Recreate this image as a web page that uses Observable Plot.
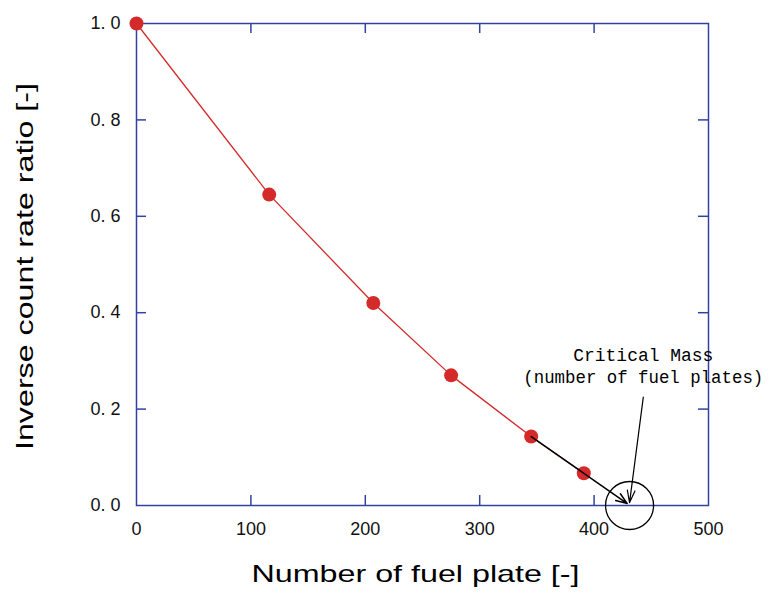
<!DOCTYPE html>
<html>
<head>
<meta charset="utf-8">
<script src="https://cdn.jsdelivr.net/npm/d3@7"></script>
<script src="https://cdn.jsdelivr.net/npm/@observablehq/plot@0.6"></script>
<style>
  body { margin: 0; background: #fff; }
  #chart svg { display: block; }
</style>
</head>
<body>
<div id="chart"></div>
<script>
// Data
const fuelPlates = [0, 116, 207, 275, 345, 391];
const inverseRatio = [1.0, 0.645, 0.42, 0.27, 0.143, 0.067];

const xTicks = [0, 100, 200, 300, 400, 500];
const yTicks = [0.0, 0.2, 0.4, 0.6, 0.8, 1.0];

const xLabel = "Number of fuel plate [-]";
const yLabel = "Inverse count rate ratio [-]";

// Annotation
const annotationLines = ["Critical Mass", "(number of fuel plates)"];
const annotationX = [443, 443];
const annotationY = [0.311, 0.266];
const criticalMass = [431];              // circled estimate (x), at y = 0
const extrapArrow = [{x1: 345, y1: 0.143, x2: 429, y2: 0.004}];
const labelArrow = [{x1: 443, y1: 0.225, x2: 431, y2: 0.006}];

const data = fuelPlates.map((x, i) => ({x, y: inverseRatio[i]}));
const notes = annotationLines.map((t, i) => ({t, x: annotationX[i], y: annotationY[i]}));

const axisColor = "#3342a0";
const red = "#d42a2a";
const W = 771, H = 596;
const mL = 136, mR = 63, mT = 23, mB = 91;
const plotW = W - mL - mR, plotH = H - mT - mB;
const tickLen = 10;
const innerX = xTicks.slice(1, -1);
const innerY = yTicks.slice(1, -1);
const sans = "'Liberation Sans', Arial, sans-serif";
const mono = "'Liberation Mono', 'DejaVu Sans Mono', monospace";

const chart = Plot.plot({
  width: W,
  height: H,
  marginLeft: mL,
  marginRight: mR,
  marginTop: mT,
  marginBottom: mB,
  style: {fontFamily: sans, fontSize: "18px", color: "#000", background: "#fff"},
  x: {domain: [0, 500], ticks: xTicks},
  y: {domain: [0, 1], ticks: yTicks},
  marks: [
    Plot.frame({stroke: axisColor, strokeWidth: 1.5}),
    // inward ticks on all four sides
    Plot.tickX(innerX, {x: d => d, insetTop: plotH - tickLen, stroke: axisColor, strokeWidth: 1.5}),
    Plot.tickX(innerX, {x: d => d, insetBottom: plotH - tickLen, stroke: axisColor, strokeWidth: 1.5}),
    Plot.tickY(innerY, {y: d => d, insetRight: plotW - tickLen, stroke: axisColor, strokeWidth: 1.5}),
    Plot.tickY(innerY, {y: d => d, insetLeft: plotW - tickLen, stroke: axisColor, strokeWidth: 1.5}),
    Plot.axisX({ticks: xTicks, tickSize: 0, tickPadding: 17, label: null, fontSize: 18, fill: "#111"}),
    Plot.axisY({ticks: yTicks, tickSize: 0, tickPadding: 16, label: null, fontSize: 18, fill: "#111",
      tickFormat: d => d3.format(".1f")(d).replace(".", ". ")}),
    // axis titles
    Plot.text([xLabel], {frameAnchor: "bottom", dy: 76, dx: -7, text: d => d, textAnchor: "middle",
      fontFamily: sans, fontSize: 24, fill: "#000", className: "xlab"}),
    Plot.text([yLabel], {frameAnchor: "left", dx: -111, dy: 2, rotate: -90, text: d => d, textAnchor: "middle",
      fontFamily: sans, fontSize: 24, fill: "#000", className: "ylab"}),
    // data
    Plot.line(data, {x: "x", y: "y", stroke: red, strokeWidth: 1.3}),
    Plot.dot(data, {x: "x", y: "y", r: 7, fill: red, stroke: "none"}),
    // annotation
    Plot.arrow(extrapArrow, {x1: "x1", y1: "y1", x2: "x2", y2: "y2", stroke: "#000", strokeWidth: 1.5, headLength: 12, headAngle: 40}),
    Plot.arrow(labelArrow, {x1: "x1", y1: "y1", x2: "x2", y2: "y2", stroke: "#000", strokeWidth: 1.2, headLength: 16, headAngle: 35}),
    Plot.dot(criticalMass, {x: d => d, y: () => 0, r: 24, fill: "none", stroke: "#000", strokeWidth: 1.3}),
    Plot.text(notes, {x: "x", y: "y", text: "t", fontFamily: mono,
      fontSize: 18, fill: "#000", textAnchor: "middle", className: "note"})
  ]
});
// stretch titles / annotation to the widths seen in the reference
const fit = (sel, lengths) => {
  chart.querySelectorAll(sel + " text").forEach((t, i) => {
    const L = lengths[i % lengths.length];
    t.setAttribute("textLength", L);
    t.setAttribute("lengthAdjust", "spacingAndGlyphs");
  });
};
fit(".xlab", [328]);
fit(".ylab", [367]);
fit(".note", [140, 240]);
document.getElementById("chart").append(chart);
</script>
</body>
</html>
